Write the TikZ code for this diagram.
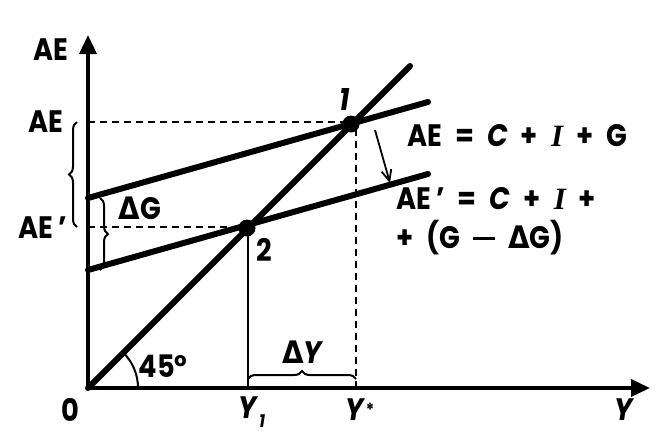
\documentclass[tikz,border=0pt]{standalone}
\usepackage{fontspec}
\setmainfont{Poppins}[FakeStretch=0.88]
\newfontfamily\gfont{DejaVu Sans}[FakeStretch=0.9]
\newfontfamily\sfont{Liberation Serif}
\usetikzlibrary{arrows.meta,decorations.pathreplacing,calc}
\newcommand\Dlt{{\gfont\bfseries Δ}}
\newcommand\Ival{{\sfont\bfseries\itshape I}}
\newcommand\mns{\raisebox{8.5pt}{\rule{22pt}{3.6pt}}}
\begin{document}
\begin{tikzpicture}[x=1pt,y=-1pt,
  lab/.style={inner sep=0pt,font=\fontsize{31}{34}\selectfont\bfseries},
  eqn/.style={lab,anchor=west,execute at begin node={\spaceskip=0.42em plus 0.1em}},
  axis/.style={line width=3.5pt,-{Triangle[length=19pt,width=17pt]}},
  thickln/.style={line width=6pt,line cap=round},
  thinln/.style={line width=2pt},
  dashln/.style={line width=2pt,dash pattern=on 7pt off 5pt},
  brc/.style={line width=2pt,decorate,decoration={brace,amplitude=8pt}},
  dot/.style={circle,fill=black,inner sep=0pt,minimum size=17pt}]
\useasboundingbox (0,0) rectangle (668,440);
% key points
\coordinate (O) at (88,388);
\coordinate (Ytip) at (88,35);
\coordinate (Xtip) at (650,388);
\coordinate (L45) at (410,66);
\coordinate (A1) at (88,198);
\coordinate (A2) at (428,102);
\coordinate (B1) at (88,270);
\coordinate (B2) at (428,174);
\coordinate (Y1) at (248,388);
\coordinate (Ys) at (356,388);
\coordinate (AEl) at (88,122);
\coordinate (AEpl) at (88,227);
% dashed guides
\draw[dashln] (AEl) -- (351,122);
\draw[dashln] (AEpl) -- (247,227);
\draw[dashln] (Ys) -- (356,124);
% Y1 vertical
\draw[line width=2.8pt] (Y1) -- (248,228);
% lines
\draw[thickln] (O) -- (L45);
\draw[thickln] (A1) -- (A2);
\draw[thickln] (B1) -- (B2);
% axes
\draw[axis] (O) -- (Ytip);
\draw[axis] (O) -- (Xtip);
% equilibrium points
\node[dot] (P1) at (351,124) {};
\node[dot] (P2) at (247,228) {};
% angle
\draw[thinln] (138,388) arc[start angle=0,end angle=-45,radius=50];
% braces
\draw[brc] (77,227) -- (77,122);
\draw[brc] (100,198) -- (100,270);
\draw[brc] (248,379) -- (356,379);
% shift arrow
\coordinate (S1) at (375,130);
\coordinate (S2) at (390,183);
\draw[line width=1.8pt,-{Straight Barb[length=11pt,width=10pt]}] (S1) -- (S2);
% labels
\node[lab] (tAE) at (51,50) {AE};
\node[lab] (lAE) at (46,122) {AE};
\node[lab] (lAEp) at (43,228) {AE\,'};
\node[lab] (dG) at (140,208) {\Dlt G};
\node[lab] (n1) at (345,100) {\itshape 1};
\node[lab] (n2) at (264,250) {2};
\node[eqn] (eq1) at (407,136) {AE = \textit{C} + \Ival{} + G};
\node[eqn] (eq2) at (396,199) {AE\,' = \textit{C} + \Ival{} +};
\node[eqn] (eq3) at (396,238) {+ (G \mns{} \Dlt G)};
\node[lab] (a45) at (163,366) {45°};
\node[lab] (dY) at (303,352) {\Dlt\textit{Y}};
\node[lab] (l0) at (70,410) {0};
\node[lab] (lY1) at (252,412) {\textit{Y}\raisebox{-9pt}{\fontsize{18}{20}\selectfont\itshape 1}};
\node[lab] (lYs) at (360,410) {\textit{Y}\raisebox{4pt}{\fontsize{18}{20}\selectfont *}};
\node[lab] (lY) at (625,410) {\textit{Y}};
\end{tikzpicture}
\end{document}
